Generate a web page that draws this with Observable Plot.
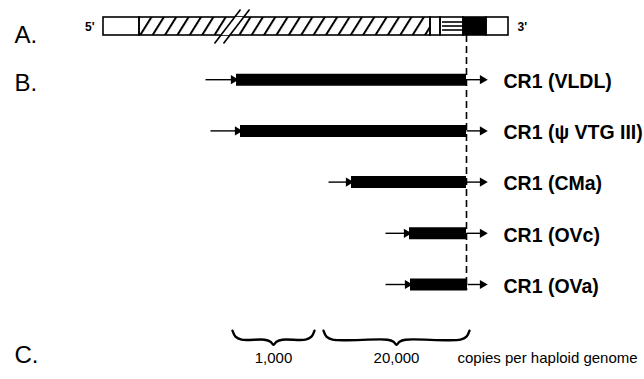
<!DOCTYPE html>
<html><head><meta charset="utf-8">
<script src="https://cdn.jsdelivr.net/npm/d3@7"></script>
<script src="https://cdn.jsdelivr.net/npm/@observablehq/plot@0.6"></script>
<style>html,body{margin:0;padding:0;background:#fff} svg{display:block}</style>
</head><body><div id="chart"></div>
<script>
// Panel A: gene map segments (map units)
const mapKind  = ["5' flank", "coding", "spacer", "repeat", "CR1", "3' flank"];
const mapStart = [103, 139, 430, 440, 463, 486];
const mapEnd   = [139, 430, 440, 463, 486, 508];
const mapBreak = [230];

// Panel B: CR1 elements
const elements     = ["CR1 (VLDL)", "CR1 (ψ VTG III)", "CR1 (CMa)", "CR1 (OVc)", "CR1 (OVa)"];
const elementStart = [236, 240, 351, 409, 410];
const elementEnd   = [466, 466, 466, 466, 467];
const flankStart   = [205, 210, 328, 385, 385];
const flankEnd     = [485, 485, 485, 485, 485];

// Panel C: copy number groups
const braceLabel = ["1,000", "20,000"];
const braceStart = [232, 323];
const braceEnd   = [314, 469];
const copyUnit   = ["copies per haploid genome"];

const PX = 51.2;            // pixels per row
const u = px => px / PX;    // pixel offset -> row units
const font = "'Liberation Sans', Arial, Helvetica, sans-serif";

const map = mapKind.map((kind, i) => ({kind, x1: mapStart[i], x2: mapEnd[i]}));
const rows = elements.map((name, i) => ({name, row: i + 1, start: elementStart[i], end: elementEnd[i], left: flankStart[i], right: flankEnd[i]}));
const braces = braceLabel.map((label, i) => ({label, x1: braceStart[i], x2: braceEnd[i], mid: (braceStart[i] + braceEnd[i]) / 2}));
const BR = 6;

function bracePoints(b) {
  const m = b.mid, top = BR + u(-5), flat = BR + u(4), tip = BR + u(9);
  return [
    [b.x1, top], [b.x1 + 3, flat - u(3)], [b.x1 + 9, flat], [m - 9, flat], [m - 3, flat + u(2)], [m, tip],
    [m + 3, flat + u(2)], [m + 9, flat], [b.x2 - 9, flat], [b.x2 - 3, flat - u(3)], [b.x2, top]
  ].map(([x, y]) => ({x, y, label: b.label}));
}

const barTop = u(-11), barBot = u(7);
const isKind = k => d => d.kind === k;
const letter = (t, y, dy) => Plot.text([t], {frameAnchor: "left", y, dx: 14, dy, text: d => d, textAnchor: "start", fontSize: 24});

const plot = Plot.plot({
  width: 644, height: 379, margin: 0,
  x: {domain: [0, 644], axis: null},
  y: {domain: [0, 6], range: [28, 28 + 6 * PX], axis: null},
  style: {fontFamily: font, background: "white", color: "black"},
  marks: [
    // Panel A map
    Plot.rect(map.filter(d => d.kind !== "coding" && d.kind !== "CR1"), {x1: "x1", x2: "x2", y1: barTop, y2: barBot, fill: "white"}),
    Plot.rect(map.filter(isKind("coding")), {x1: "x1", x2: "x2", y1: barTop, y2: barBot, fill: "url(#hatch)"}),
    Plot.rect(map.filter(isKind("repeat")), {x1: "x1", x2: "x2", y1: barTop, y2: barBot, insetTop: 4, insetBottom: 4, insetLeft: 2, insetRight: 0, fill: "url(#hlines)"}),
    Plot.rect(map.filter(isKind("CR1")), {x1: "x1", x2: "x2", y1: barTop, y2: barBot, fill: "black"}),
    Plot.rect(map, {x1: "x1", x2: "x2", y1: barTop, y2: barBot, fill: "none", stroke: "black", strokeWidth: 1.6}),
    // break marks
    Plot.areaX(mapBreak.flatMap(b => [{x: b - 10, y: barBot}, {x: b + 5, y: barTop}]), {x1: d => d.x, x2: d => d.x + 9, y: "y", fill: "white", curve: "linear"}),
    Plot.link(mapBreak.flatMap(b => [0, 9].map(o => ({o, b}))), {
      x1: d => d.b - 16 + d.o, y1: u(15), x2: d => d.b + 10 + d.o, y2: u(-19), strokeWidth: 1.6
    }),
    Plot.text(["5'"], {x: mapStart[0], y: 0, dx: -9, dy: -1, textAnchor: "end", fontSize: 12, fontWeight: "bold"}),
    Plot.text(["3'"], {x: mapEnd[mapEnd.length - 1], y: 0, dx: 9, dy: -1, textAnchor: "start", fontSize: 12, fontWeight: "bold"}),

    // dashed alignment line at CR1 3' end
    Plot.ruleX([elementEnd[0]], {x: d => d, y1: barBot, y2: 5 + u(6), strokeDasharray: "7,4", strokeWidth: 1.6}),

    // Panel B elements
    Plot.link(rows, {x1: "left", x2: "start", y1: "row", y2: "row", strokeWidth: 1.4}),
    Plot.link(rows, {x1: "end", x2: "right", y1: "row", y2: "row", strokeWidth: 1.4}),
    Plot.dot(rows, {x: "start", y: "row", dx: -3, symbol: "triangle", rotate: 90, r: 3.4, fill: "black", stroke: null}),
    Plot.dot(rows, {x: "right", y: "row", dx: -3, symbol: "triangle", rotate: 90, r: 3.4, fill: "black", stroke: null}),
    Plot.ruleY(rows, {y: "row", x1: "start", x2: "end", strokeWidth: 12}),
    Plot.text(rows, {x: "right", y: "row", text: "name", dx: 18, dy: 2, textAnchor: "start", fontSize: 19.5, fontWeight: "bold"}),

    // Panel C braces
    Plot.line(braces.flatMap(bracePoints), {x: "x", y: "y", z: "label", curve: "catmull-rom", strokeWidth: 2.4}),
    Plot.text(braces, {x: "mid", y: BR, text: "label", dy: 22, fontSize: 15}),
    Plot.text(copyUnit, {x: braceEnd[1], y: BR, text: d => d, dx: -12, dy: 22, textAnchor: "start", fontSize: 15}),

    // panel letters
    letter("A.", 0, 7),
    letter("B.", 1, 4),
    letter("C.", BR, 20)
  ]
});

// patterns
const defs = d3.select(plot).insert("defs", ":first-child");
const hatch = defs.append("pattern").attr("id", "hatch").attr("patternUnits", "userSpaceOnUse")
  .attr("width", 10.5).attr("height", 10.5).attr("patternTransform", "rotate(32)");
hatch.append("rect").attr("width", 10.5).attr("height", 10.5).attr("fill", "white");
hatch.append("line").attr("x1", 1).attr("x2", 1).attr("y1", 0).attr("y2", 10.5).attr("stroke", "black").attr("stroke-width", 2);
const hl = defs.append("pattern").attr("id", "hlines").attr("patternUnits", "userSpaceOnUse")
  .attr("width", 4).attr("height", 4);
hl.append("rect").attr("width", 4).attr("height", 4).attr("fill", "white");
hl.append("line").attr("x1", 0).attr("x2", 4).attr("y1", 2).attr("y2", 2).attr("stroke", "black").attr("stroke-width", 1.6);

document.getElementById("chart").appendChild(plot);
</script>
</body></html>
